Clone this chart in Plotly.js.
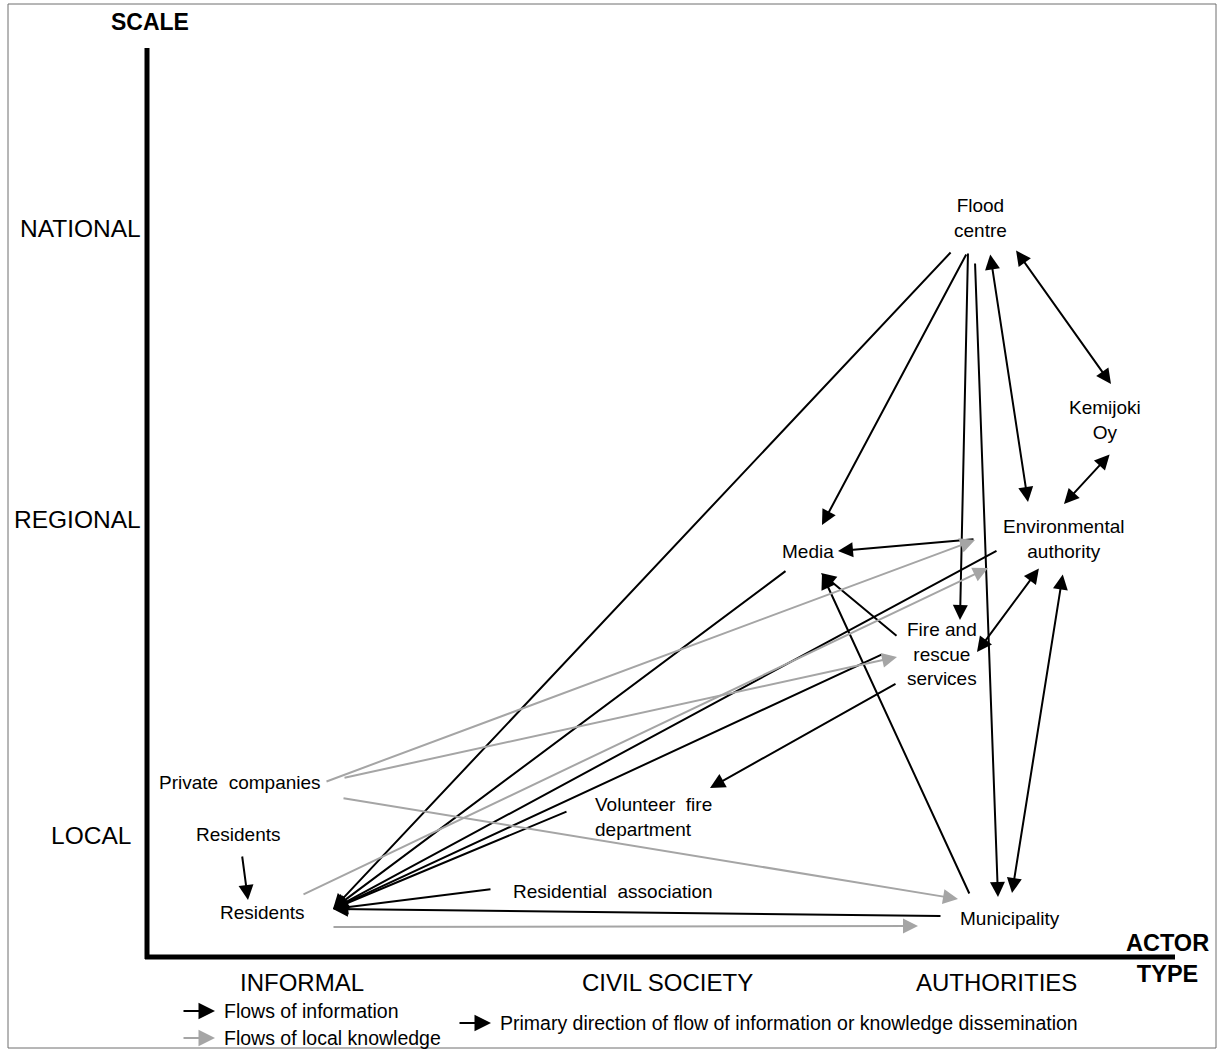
<!DOCTYPE html>
<html>
<head>
<meta charset="utf-8">
<script src="https://cdn.plot.ly/plotly-3.0.1.min.js"></script>
<style>html,body{margin:0;padding:0;background:#fff;}#chart{width:1218px;height:1052px;}</style>
</head>
<body>
<div id="chart"></div>
<script>
// ---- Actors (nodes) ----
const nodeLabels = ["Flood<br>centre", "Kemijoki<br>Oy", "Environmental<br>authority", "Media",
  "Fire and<br>rescue<br>services", "Private  companies", "Residents", "Residents",
  "Volunteer  fire<br>department", "Residential  association", "Municipality"];
const nodeX = [980, 1105, 1063, 808, 942, 240, 238, 262, 593, 511, 1010];
const nodeY = [218, 420, 539, 551, 654, 782, 834, 912, 817, 891, 918];
const nodeAnchor = ["center", "center", "center", "center", "center", "center", "center", "center", "left", "left", "center"];

// ---- Flows: tail -> head ----
const flowTailX = [952, 967, 968, 975, 990, 1015, 1111, 975, 998, 1040, 1063, 787, 898, 970, 883, 897, 568, 492, 942, 242,
                   325, 343, 302, 342, 332];
const flowTailY = [251, 253, 252, 262, 253, 249, 453, 539, 550, 567, 573, 570, 637, 895, 654, 683, 811, 889, 916, 855,
                   782, 778, 895, 798, 927];
const flowHeadX = [333, 822, 960, 998, 1028, 1111, 1064, 838, 333, 977, 1012, 333, 821, 822, 333, 710, 333, 333, 333, 248,
                   975, 897, 988, 958, 918];
const flowHeadY = [909, 525, 620, 897, 502, 384, 504, 551, 909, 652, 893, 909, 573, 574, 909, 788, 909, 909, 909, 900,
                   540, 657, 568, 899, 926];
const flowKind = ["info","info","info","info","info","info","info","info","info","info","info","info","info","info","info","info","info","info","info","info",
                  "knowledge","knowledge","knowledge","knowledge","knowledge"];
const flowBoth = [false,false,false,false,true,true,true,false,false,true,true,false,false,false,false,false,false,false,false,false,
                  false,false,false,false,false];

// ---- Axis categories ----
const scaleLabels = ["NATIONAL", "REGIONAL", "LOCAL"];
const scaleY = [228, 519, 835];
const actorLabels = ["INFORMAL", "CIVIL SOCIETY", "AUTHORITIES"];
const actorX = [302, 667, 996];

// ---- Legend ----
const legendTexts = ["Flows of information", "Flows of local knowledge", "Primary direction of flow of information or knowledge dissemination"];
const legendKind = ["info", "knowledge", "info"];
const legendX = [182, 182, 458];
const legendY = [1011, 1038, 1023];

const FONT = "Liberation Sans, Arial, sans-serif";
const colors = {info: "#000000", knowledge: "#a5a5a5"};
const annotations = [];

// flows
for (let i = 0; i < flowTailX.length; i++) {
  const a = {
    x: flowHeadX[i], y: flowHeadY[i], ax: flowTailX[i], ay: flowTailY[i],
    xref: "x", yref: "y", axref: "x", ayref: "y",
    text: "", showarrow: true,
    arrowhead: 2, arrowsize: 1.5, arrowwidth: 2,
    arrowcolor: colors[flowKind[i]], standoff: 0, startstandoff: 0
  };
  if (flowBoth[i]) { a.arrowside = "end+start"; a.startarrowhead = 2; a.startarrowsize = 1.5; }
  annotations.push(a);
}

// node labels
for (let i = 0; i < nodeLabels.length; i++) {
  annotations.push({
    x: nodeX[i], y: nodeY[i], xref: "x", yref: "y", text: nodeLabels[i], showarrow: false,
    xanchor: nodeAnchor[i], yanchor: "middle", align: nodeAnchor[i] === "left" ? "left" : "center",
    font: {family: FONT, size: 19, color: "#000"}
  });
}

// axis labels
annotations.push({x: 150, y: 22, xref: "x", yref: "y", text: "<b>SCALE</b>", showarrow: false,
  xanchor: "center", yanchor: "middle", font: {family: FONT, size: 23, color: "#000"}});
for (let i = 0; i < scaleLabels.length; i++) {
  annotations.push({x: i === 2 ? 133 : 143, y: scaleY[i], xref: "x", yref: "y", text: scaleLabels[i], showarrow: false,
    xanchor: "right", yanchor: "middle", font: {family: FONT, size: 24.5, color: "#000"}});
}
annotations.push({x: 1167, y: 958, xref: "x", yref: "y", text: "<b>ACTOR<br>TYPE</b>", showarrow: false,
  xanchor: "center", yanchor: "middle", font: {family: FONT, size: 23.5, color: "#000"}});
for (let i = 0; i < actorLabels.length; i++) {
  annotations.push({x: actorX[i], y: 982, xref: "x", yref: "y", text: actorLabels[i], showarrow: false,
    xanchor: "center", yanchor: "middle", font: {family: FONT, size: 24, color: "#000"}});
}

// legend
for (let i = 0; i < legendTexts.length; i++) {
  annotations.push({x: legendX[i] + 33, y: legendY[i], ax: legendX[i], ay: legendY[i],
    xref: "x", yref: "y", axref: "x", ayref: "y", text: "", showarrow: true,
    arrowhead: 2, arrowsize: 1.5, arrowwidth: 2.2, arrowcolor: colors[legendKind[i]], standoff: 0});
  annotations.push({x: legendX[i] + 40, y: legendY[i], xref: "x", yref: "y", text: legendTexts[i], showarrow: false,
    xanchor: "left", yanchor: "middle", font: {family: FONT, size: 19.5, color: "#000"}});
}

const shapes = [
  {type: "rect", xref: "paper", yref: "paper", x0: 8/1218, x1: 1216/1218, y0: 1 - 1048/1052, y1: 1 - 4/1052,
   line: {color: "#6f6f6f", width: 1}},
  {type: "line", xref: "x", yref: "y", x0: 147, x1: 147, y0: 48, y1: 959, line: {color: "#000", width: 5}},
  {type: "line", xref: "x", yref: "y", x0: 145, x1: 1175, y0: 957, y1: 957, line: {color: "#000", width: 5}}
];

const layout = {
  width: 1218, height: 1052,
  margin: {l: 0, r: 0, t: 0, b: 0},
  paper_bgcolor: "#fff", plot_bgcolor: "#fff",
  xaxis: {range: [0, 1218], visible: false, fixedrange: true},
  yaxis: {range: [1052, 0], visible: false, fixedrange: true},
  showlegend: false,
  annotations: annotations,
  shapes: shapes
};

Plotly.newPlot("chart", [{x: [], y: [], type: "scatter", mode: "markers", hoverinfo: "skip"}], layout, {staticPlot: true, displayModeBar: false});
</script>
</body>
</html>
